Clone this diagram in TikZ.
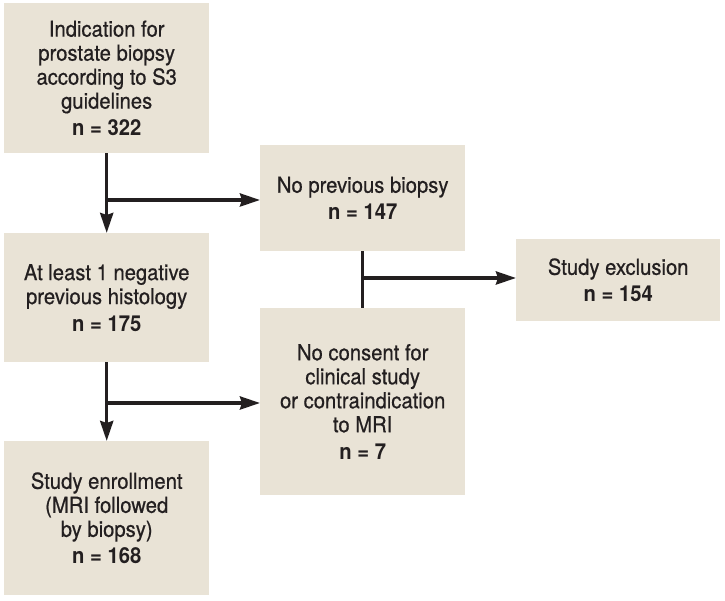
\documentclass[tikz,border=0pt]{standalone}
\usepackage{fontspec}
\setmainfont[FakeStretch=0.92, UprightFeatures={FakeBold=0.6}]{TeX Gyre Heros}
\usetikzlibrary{arrows.meta}
\definecolor{boxfill}{HTML}{E9E3D6}
\definecolor{ink}{HTML}{231F20}
\tikzset{
  fbox/.style={fill=boxfill, draw=none, anchor=north west, align=center, text=ink,
    font=\fontsize{22}{24}\selectfont, inner sep=0pt},
  conn/.style={draw=ink, line width=3.5pt},
  arr/.style={conn, -{Stealth[length=20pt,width=13pt,inset=2pt]}},
}
\newcommand{\nval}[1]{\\[3pt]\textbf{#1}}
\begin{document}
\begin{tikzpicture}[x=1pt,y=1pt]
\useasboundingbox (0,0) rectangle (725,601);
% boxes (y = 601 - pixel y)
\node[fbox, minimum width=205pt, minimum height=150pt] (A) at (4,598)
  {Indication for\\prostate biopsy\\according to S3\\guidelines\nval{n = 322}};
\node[fbox, minimum width=205pt, minimum height=106pt] (B) at (260,456)
  {No previous biopsy\nval{n = 147}};
\node[fbox, minimum width=205pt, minimum height=129pt] (C) at (4,368)
  {At least 1 negative\\previous histology\nval{n = 175}};
\node[fbox, minimum width=204pt, minimum height=82pt] (D) at (516,362)
  {Study exclusion\nval{n = 154}};
\node[fbox, minimum width=205pt, minimum height=187pt] (E) at (260,293)
  {No consent for\\clinical study\\or contraindication\\to MRI\nval{n = 7}};
\node[fbox, minimum width=205pt, minimum height=154pt] (F) at (4,160)
  {Study enrollment\\(MRI followed\\by biopsy)\nval{n = 168}};
% junction points
\coordinate (j1) at (A.south |- 0,401);
\coordinate (j2) at (B.south |- 0,323);
\coordinate (j3) at (C.south |- 0,198);
% connectors
\draw[arr] (A.south) -- (C.north);
\draw[arr] (j1) -- (j1 -| B.west);
\draw[conn] (B.south) -- (E.north);
\draw[arr] (j2) -- (j2 -| D.west);
\draw[arr] (C.south) -- (F.north);
\draw[arr] (j3) -- (j3 -| E.west);
\end{tikzpicture}
\end{document}
